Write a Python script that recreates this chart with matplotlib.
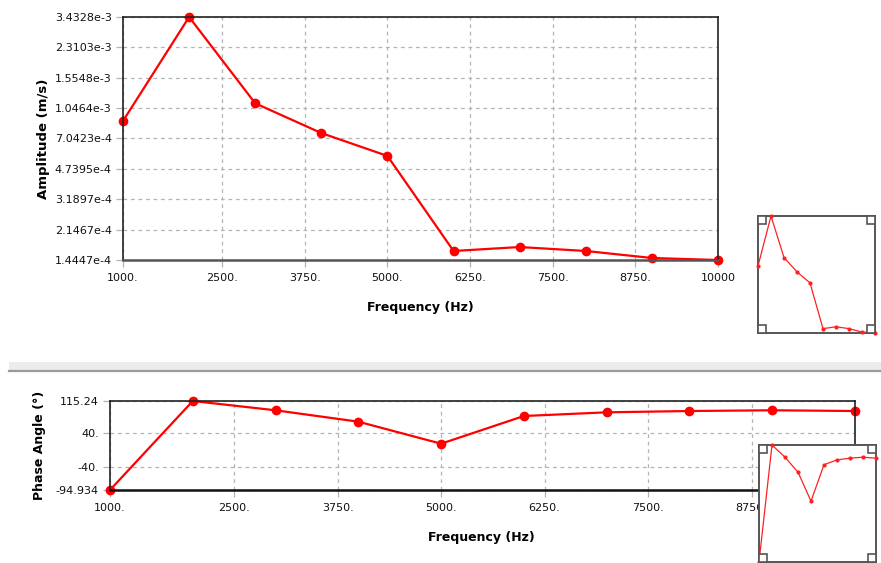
import numpy as np
import matplotlib.pyplot as plt
from matplotlib.patches import Rectangle
from matplotlib.lines import Line2D

# harmonic response at the probe point
freq = [1000, 2000, 3000, 4000, 5000, 6000, 7000, 8000, 9000, 10000]
amplitude = [8.85e-4, 3.4328e-3, 1.114e-3, 7.56e-4, 5.61e-4,
             1.625e-4, 1.711e-4, 1.625e-4, 1.483e-4, 1.4447e-4]
phase = [-94.934, 115.24, 93.3, 66.4, 14.4, 79.8, 88.5, 91.6, 93.3, 91.6]

amp_ticks = [1.4447e-4, 2.1467e-4, 3.1897e-4, 4.7395e-4, 7.0423e-4,
             1.0464e-3, 1.5548e-3, 2.3103e-3, 3.4328e-3]
amp_labels = ["1.4447e-4", "2.1467e-4", "3.1897e-4", "4.7395e-4", "7.0423e-4",
              "1.0464e-3", "1.5548e-3", "2.3103e-3", "3.4328e-3"]
phase_ticks = [-94.934, -40, 40, 115.24]
phase_labels = ["-94.934", "-40.", "40.", "115.24"]
freq_ticks = [1000, 2500, 3750, 5000, 6250, 7500, 8750, 10000]
freq_labels = ["1000.", "2500.", "3750.", "5000.", "6250.", "7500.", "8750.", "10000"]

W, H = 881, 563
plt.rcParams['font.family'] = 'DejaVu Sans'
fig = plt.figure(figsize=(W / 100, H / 100), dpi=100)


def box(x0, y0, x1, y1):
    # pixel box (top-left origin) -> figure fraction rect
    return [x0 / W, 1 - y1 / H, (x1 - x0) / W, (y1 - y0) / H]


def style_main(ax, bottom_color):
    ax.grid(True, color='#b4b4b4', linestyle=(0, (3, 3)), linewidth=0.9)
    ax.set_axisbelow(True)
    for s in ax.spines.values():
        s.set_color('#222222')
        s.set_linewidth(1.2)
    ax.spines['bottom'].set_color(bottom_color)
    ax.spines['bottom'].set_linewidth(1.8)
    ax.tick_params(direction='out', length=5, width=0.9, color='#b4b4b4',
                   labelsize=8, labelcolor='#111111', pad=3)
    ax.tick_params(axis='x', pad=4.5)
    ax.set_xticks(freq_ticks)
    ax.set_xticklabels(freq_labels)
    ax.minorticks_off()


# amplitude plot
ax1 = fig.add_axes(box(123, 17, 718, 260))
ax1.plot(freq, amplitude, color='#ff0000', lw=1.6, marker='o', ms=7, mew=0,
         clip_on=False)
ax1.set_yscale('log')
ax1.set_xlim(1000, 10000)
ax1.set_ylim(amp_ticks[0], amp_ticks[-1])
ax1.set_yticks(amp_ticks)
ax1.set_yticklabels(amp_labels)
style_main(ax1, '#555555')
ax1.set_yticks([], minor=True)
fig.text(43 / W, 1 - 139 / H, "Amplitude (m/s)", rotation=90, ha='center',
         va='center', fontsize=9.5, fontweight='bold')
fig.text(420 / W, 1 - 308 / H, "Frequency (Hz)", ha='center', va='center',
         fontsize=9, fontweight='bold')

# separator between the two panels
fig.patches.append(Rectangle((9 / W, 1 - 370 / H), 1 - 9 / W, 8 / H,
                             transform=fig.transFigure, color='#ececec', lw=0))
fig.lines.append(Line2D([9 / W, 1], [1 - 371 / H] * 2, transform=fig.transFigure,
                        color='#9a9a9a', lw=1.6))

# phase plot
ax2 = fig.add_axes(box(110, 401, 855, 490))
ax2.plot(freq, phase, color='#ff0000', lw=1.6, marker='o', ms=7, mew=0,
         clip_on=False)
ax2.set_xlim(1000, 10000)
ax2.set_ylim(phase_ticks[0], phase_ticks[-1])
ax2.set_yticks(phase_ticks)
ax2.set_yticklabels(phase_labels)
style_main(ax2, '#111111')
fig.text(40 / W, 1 - 445 / H, "Phase Angle (°)", rotation=90, ha='center',
         va='center', fontsize=9, fontweight='bold')
fig.text(481 / W, 1 - 538 / H, "Frequency (Hz)", ha='center', va='center',
         fontsize=9, fontweight='bold')


def thumbnail(rect, y, logy, ylim):
    ax = fig.add_axes(rect, zorder=5)
    ax.set_facecolor('white')
    ax.plot(freq, y, color='#ff2020', lw=0.9, marker='o', ms=3, mew=0,
            clip_on=False, zorder=3)
    if logy:
        ax.set_yscale('log')
    ax.set_xlim(1000, 10000)
    ax.set_ylim(*ylim)
    ax.set_xticks([])
    ax.set_yticks([])
    ax.minorticks_off()
    for s in ax.spines.values():
        s.set_color('#555555')
        s.set_linewidth(1.4)
    c = 0.065
    for cx, cy in [(0, 0), (1 - c, 0), (0, 1 - c), (1 - c, 1 - c)]:
        ax.add_patch(Rectangle((cx, cy), c, c, transform=ax.transAxes,
                               facecolor='white', edgecolor='#555555',
                               lw=1.2, zorder=4, clip_on=False))
    return ax


thumbnail(box(758, 216, 875, 333), amplitude, True, (amp_ticks[0], amp_ticks[-1]))
thumbnail(box(759, 445, 876, 562), phase, False, (phase_ticks[0], phase_ticks[-1]))

fig.savefig("out.png", dpi=100)
